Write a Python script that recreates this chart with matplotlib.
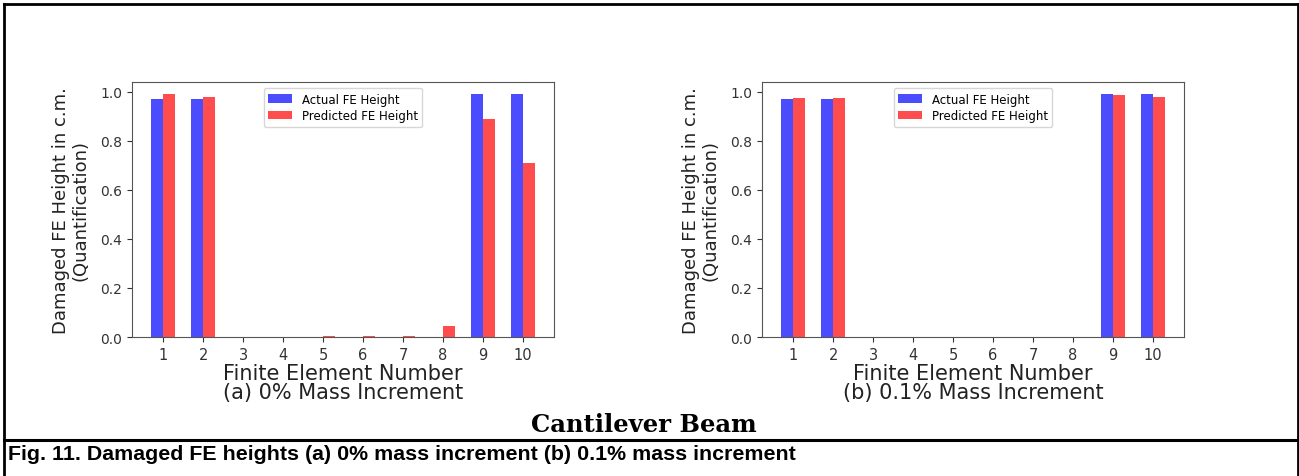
import matplotlib.pyplot as plt
from matplotlib.lines import Line2D
import numpy as np

# finite element numbers and damaged heights
elements = np.arange(1, 11)
actual_a = [0.97, 0.97, 0, 0, 0, 0, 0, 0, 0.99, 0.99]
pred_a = [0.99, 0.98, 0, 0, 0.003, 0.003, 0.003, 0.045, 0.89, 0.71]
actual_b = [0.97, 0.97, 0, 0, 0, 0, 0, 0, 0.99, 0.99]
pred_b = [0.975, 0.975, 0, 0, 0, 0, 0, 0, 0.985, 0.98]
panel_titles = ["(a) 0% Mass Increment", "(b) 0.1% Mass Increment"]

fig = plt.figure(figsize=(12.99, 4.77), dpi=100)

# axes placed to match the scanned layout
lefts = [0.1016, 0.5866]
panels = [(actual_a, pred_a), (actual_b, pred_b)]

for left, (actual, pred), title in zip(lefts, panels, panel_titles):
	ax = fig.add_axes([left, 0.2914, 0.325, 0.5346])
	w = 0.3
	ax.bar(elements - w / 2, actual, w, color="b", alpha=0.7, label="Actual FE Height")
	ax.bar(elements + w / 2, pred, w, color="r", alpha=0.7, label="Predicted FE Height")
	ax.set_xticks(elements)
	ax.tick_params(labelsize=10, colors="#333333")
	ax.tick_params(axis="x", labelsize=10.5)
	for s in ax.spines.values():
		s.set_color("#555555")
	ax.set_xlabel("Finite Element Number\n" + title, fontsize=15, color="#222222",
		linespacing=0.95, labelpad=1)
	ax.set_ylabel("Damaged FE Height in c.m.\n(Quantification)", fontsize=13, color="#222222",
		linespacing=1.1, labelpad=8)
	ax.legend(loc="upper center", fontsize=8.5, labelspacing=0.3)

fig.text(0.496, 0.0943, "Cantilever Beam", ha="center", va="baseline",
	fontsize=17.5, fontweight="bold", family="DejaVu Serif")
fig.text(0.0062, 0.0356, "Fig. 11. Damaged FE heights (a) 0% mass increment (b) 0.1% mass increment",
	ha="left", va="baseline", fontsize=15.4, fontweight="bold", family="Liberation Sans")

# page frame around the figure and the caption row
x0, x1 = 3.7 / 1299, 1297.5 / 1299
ytop = 1 - 5 / 477
ymid = 1 - 441 / 477
fig.add_artist(Line2D([x0, x1], [ytop, ytop], color="black", lw=2, transform=fig.transFigure))
fig.add_artist(Line2D([x0, x0], [0, ytop], color="black", lw=2, transform=fig.transFigure))
fig.add_artist(Line2D([x1, x1], [0, ytop], color="black", lw=2, transform=fig.transFigure))
fig.add_artist(Line2D([x0, x1], [ymid, ymid], color="black", lw=2.2, transform=fig.transFigure))

fig.savefig("out.png", dpi=100)
